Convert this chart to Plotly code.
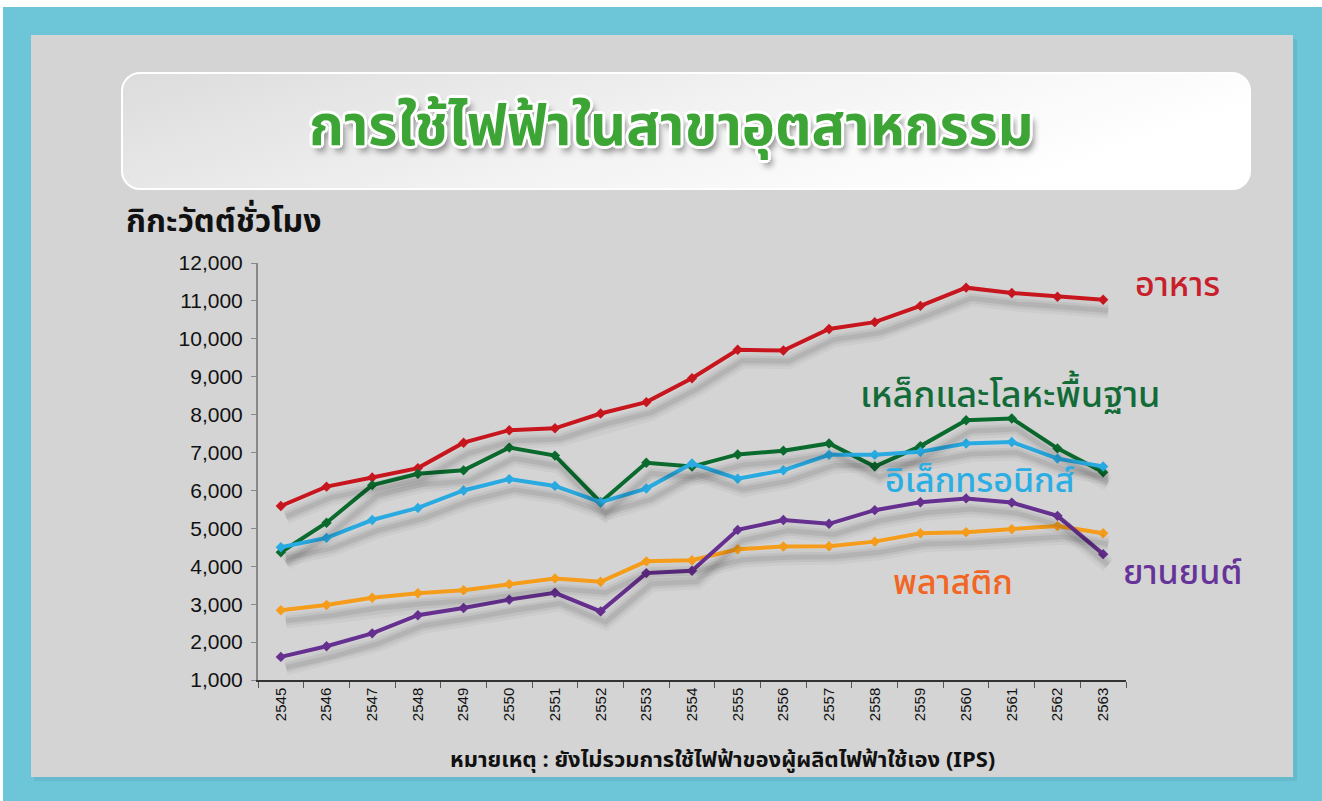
import plotly.graph_objects as go
import urllib.parse

years = ["2545", "2546", "2547", "2548", "2549", "2550", "2551", "2552", "2553", "2554",
         "2555", "2556", "2557", "2558", "2559", "2560", "2561", "2562", "2563"]

food = [5590, 6100, 6340, 6590, 7260, 7590, 7640, 8030, 8330, 8960,
        9710, 9690, 10260, 10440, 10870, 11350, 11210, 11110, 11030]
steel = [4370, 5150, 6140, 6440, 6530, 7130, 6920, 5690, 6730, 6630,
         6950, 7050, 7240, 6630, 7170, 7850, 7900, 7110, 6480]
electronics = [4500, 4750, 5220, 5540, 6000, 6300, 6120, 5690, 6050, 6710,
               6310, 6530, 6940, 6940, 7020, 7240, 7280, 6840, 6630]
plastic = [2840, 2980, 3170, 3290, 3370, 3530, 3680, 3590, 4130, 4160,
           4450, 4520, 4530, 4650, 4870, 4900, 4980, 5060, 4870]
auto = [1610, 1890, 2230, 2710, 2900, 3120, 3300, 2810, 3820, 3880,
        4960, 5220, 5120, 5480, 5690, 5790, 5680, 5330, 4320]

series_names = ["อาหาร", "เหล็กและโลหะพื้นฐาน", "อิเล็กทรอนิกส์", "พลาสติก", "ยานยนต์"]
series_values = [food, steel, electronics, plastic, auto]
line_colors = ["#C8161E", "#0B6B2E", "#29ABE2", "#F59C1A", "#663090"]
label_colors = ["#C8202A", "#136B38", "#2BAEE3", "#F26522", "#663399"]

y_ticks = [1000, 2000, 3000, 4000, 5000, 6000, 7000, 8000, 9000, 10000, 11000, 12000]
y_ticktext = ["1,000", "2,000", "3,000", "4,000", "5,000", "6,000", "7,000", "8,000",
              "9,000", "10,000", "11,000", "12,000"]

title_text = "การใช้ไฟฟ้าในสาขาอุตสาหกรรม"
y_title = "กิกะวัตต์ชั่วโมง"
note_text = "หมายเหตุ : ยังไม่รวมการใช้ไฟฟ้าของผู้ผลิตไฟฟ้าใช้เอง (IPS)"

W, H = 1322, 801


def px(x):
    return x / W


def py(y):
    return 1 - y / H


THAI = "Noto Sans Thai, Noto Sans, Tahoma, sans-serif"

fig = go.Figure()

# Shadow layers (same data, on offset overlay axes)
for vals in series_values:
    for w, a in [(16, 0.035), (10, 0.05), (5, 0.07)]:
        fig.add_trace(go.Scatter(x=years, y=vals, mode="lines", xaxis="x2", yaxis="y2",
                                 line=dict(color=f"rgba(0,0,0,{a})", width=w),
                                 hoverinfo="skip", showlegend=False))

for name, vals, col in zip(series_names, series_values, line_colors):
    fig.add_trace(go.Scatter(x=years, y=vals, mode="lines+markers", name=name,
                             line=dict(color=col, width=4),
                             marker=dict(symbol="diamond", size=8, color=col),
                             showlegend=False))

# title box gradient as SVG image
svg = ('<svg xmlns="http://www.w3.org/2000/svg" width="1130" height="118" viewBox="0 0 1130 118" '
       'preserveAspectRatio="none">'
       '<defs><linearGradient id="g" x1="0" y1="0" x2="1" y2="0.3">'
       '<stop offset="0" stop-color="#DCDCDD"/><stop offset="0.55" stop-color="#F2F2F2"/>'
       '<stop offset="1" stop-color="#FFFFFF"/></linearGradient></defs>'
       '<rect x="1" y="1" width="1128" height="116" rx="18" ry="18" fill="url(#g)" '
       'stroke="#FFFFFF" stroke-width="2"/></svg>')
svg_uri = "data:image/svg+xml;charset=utf-8," + urllib.parse.quote(svg)

fig.update_layout(
    autosize=True,
    margin=dict(l=0, r=0, t=0, b=0, autoexpand=False),
    paper_bgcolor="white",
    plot_bgcolor="rgba(0,0,0,0)",
    showlegend=False,
    xaxis=dict(domain=[px(258), px(1126)], type="category", range=[-0.5, 18.5],
               tickson="boundaries", ticks="outside", ticklen=6, tickcolor="#555555",
               showline=True, linecolor="#333333", linewidth=1.5, showgrid=False,
               tickangle=-90, tickfont=dict(family="Liberation Sans, Arial", size=15, color="#111111"),
               anchor="y", zeroline=False, fixedrange=True),
    yaxis=dict(domain=[py(680), py(263)], range=[1000, 12000], tickvals=y_ticks, ticktext=y_ticktext,
               ticks="outside", ticklen=5, tickcolor="#888888", showline=True, linecolor="#888888",
               linewidth=2, showgrid=False, zeroline=False, ticklabelstandoff=4,
               tickfont=dict(family="Liberation Sans, Arial", size=21, color="#111111"), anchor="x",
               fixedrange=True),
    xaxis2=dict(domain=[px(258), px(1126)], type="category", range=[-0.5 - 0.11, 18.5 - 0.11],
                overlaying="x", visible=False, anchor="y2", fixedrange=True),
    yaxis2=dict(domain=[py(680), py(263)], range=[1000 + 280, 12000 + 280], overlaying="y",
                visible=False, anchor="x2", fixedrange=True),
    images=[dict(source=svg_uri, xref="paper", yref="paper", x=px(121), y=py(72),
                 sizex=px(1251) - px(121), sizey=py(72) - py(190), sizing="stretch",
                 xanchor="left", yanchor="top", layer="above")],
    shapes=[
        dict(type="rect", xref="paper", yref="paper", x0=px(3), x1=1, y0=0, y1=py(7),
             fillcolor="#6DC6D8", line=dict(width=0), layer="below"),
        dict(type="rect", xref="paper", yref="paper", x0=px(34), x1=px(1297), y0=py(781), y1=py(39),
             fillcolor="rgba(0,0,0,0.06)", line=dict(width=0), layer="below"),
        dict(type="rect", xref="paper", yref="paper", x0=px(31), x1=px(1293), y0=py(777), y1=py(35),
             fillcolor="#D4D4D4", line=dict(width=0), layer="below"),
    ],
)

shadow_css = ("-2px -2px 0 #fff, 2px -2px 0 #fff, -2px 2px 0 #fff, 2px 2px 0 #fff, "
              "0 3px 0 #fff, 0 -3px 0 #fff, 3px 0 0 #fff, -3px 0 0 #fff, 4px 6px 6px rgba(0,0,0,0.45)")

annotations = [
    dict(text=title_text, x=px(671), y=py(128), xref="paper", yref="paper", showarrow=False,
         font=dict(family=THAI, size=56, color="#3DA535", weight="bold", shadow=shadow_css),
         xanchor="center", yanchor="middle"),
    dict(text=y_title, x=px(124), y=py(222), xref="paper", yref="paper", showarrow=False,
         font=dict(family=THAI, size=32, color="#111111", weight="bold"),
         xanchor="left", yanchor="middle"),
    dict(text=note_text, x=px(722), y=py(760), xref="paper", yref="paper", showarrow=False,
         font=dict(family=THAI, size=22, color="#111111", weight="bold"),
         xanchor="center", yanchor="middle"),
]

label_pos = [(1133, 285), (858, 396), (883, 481), (891, 583), (1121, 573)]
label_sizes = [34, 36, 34, 34, 34]
for name, col, (lx, ly), fs in zip(series_names, label_colors, label_pos, label_sizes):
    annotations.append(dict(text=name, x=px(lx), y=py(ly), xref="paper", yref="paper",
                            showarrow=False, xanchor="left", yanchor="middle",
                            font=dict(family=THAI, size=fs, color=col, weight=500)))

fig.update_layout(annotations=annotations)

fig.write_html("out.html",
               config={"displayModeBar": False, "responsive": True},
               default_width="100vw", default_height="100vh",
               post_script="document.body.style.margin='0';document.body.style.overflow='hidden';")
